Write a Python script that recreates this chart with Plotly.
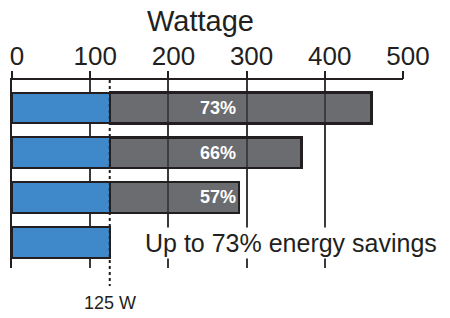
import plotly.graph_objects as go

# ---- data ----
categories = ["Fixture 1", "Fixture 2", "Fixture 3", "LED"]
led_watts = [125, 125, 125, 125]
legacy_watts = [460, 370, 290, None]
savings_labels = ["73%", "66%", "57%", ""]
tick_values = [0, 100, 200, 300, 400, 500]
tick_labels = ["0", "100", "200", "300", "400", "500"]
reference_watts = 125
reference_label = "125 W"
axis_title = "Wattage"
callout = "Up to 73% energy savings"

extra_watts = [(lw - b) if lw is not None else 0 for lw, b in zip(legacy_watts, led_watts)]

DARK = "#231f20"
BLUE = "#3f88c9"
GRAY = "rgba(60,62,66,0.76)"
FONT = "Liberation Sans, Arial, sans-serif"

fig = go.Figure()
fig.add_trace(go.Bar(
    y=categories, x=led_watts, orientation="h", width=0.69,
    marker=dict(color=BLUE, line=dict(color=DARK, width=2)),
    hoverinfo="skip", showlegend=False,
))
fig.add_trace(go.Bar(
    y=categories, x=extra_watts, orientation="h", width=0.69,
    marker=dict(color=GRAY, line=dict(color=DARK, width=2.5)),
    hoverinfo="skip", showlegend=False,
))
# invisible helper so the tick-stub axis (x2) is drawn
fig.add_trace(go.Scatter(
    x=led_watts, y=categories, xaxis="x2", mode="markers",
    marker=dict(opacity=0), hoverinfo="skip", showlegend=False,
))

# percent labels
label_x = 263
for cat, lab in zip(categories, savings_labels):
    if lab:
        fig.add_annotation(x=label_x, y=cat, xref="x", yref="y", text=f"<b>{lab}</b>",
                           showarrow=False, xanchor="center",
                           font=dict(family=FONT, size=18, color="white"))

# reference dotted line
fig.add_shape(type="line", xref="x", yref="paper", x0=reference_watts, x1=reference_watts,
              y0=1, y1=-0.096, line=dict(color=DARK, width=2, dash="dot"), layer="above")
fig.add_annotation(x=reference_watts, y=-0.186, xref="x", yref="paper", text=reference_label,
                   showarrow=False, xanchor="center", yanchor="middle",
                   font=dict(family=FONT, size=18, color=DARK))

fig.add_annotation(x=0.483, y=1.225, xref="paper", yref="paper", text=axis_title,
                   showarrow=False, yanchor="bottom", xanchor="center", borderpad=0,
                   font=dict(family=FONT, size=29, color=DARK))
fig.add_annotation(x=0.714, y=0.133, xref="paper", yref="paper", text=callout,
                   showarrow=False, bgcolor="white", borderpad=1,
                   xanchor="center", yanchor="middle",
                   font=dict(family=FONT, size=25, color=DARK))

fig.update_layout(
    width=442, height=310,
    margin=dict(l=4, r=47, t=72, b=50, autoexpand=False),
    barmode="stack", bargap=0.3,
    plot_bgcolor="white", paper_bgcolor="white",
    font=dict(family=FONT, color=DARK),
    xaxis=dict(side="top", range=[0, 500], tickvals=tick_values, ticktext=tick_labels,
               automargin=False, ticklabeloverflow="allow", ticklabelshift=5,
               ticklabelstandoff=3,
               showline=True, linecolor=DARK, linewidth=2, ticks="",
               tickfont=dict(family=FONT, size=26, color=DARK),
               showgrid=True, gridcolor="#3a3a3a", gridwidth=1.5, zeroline=False),
    xaxis2=dict(overlaying="x", side="top", matches="x", range=[0, 500],
                tickvals=tick_values, showticklabels=False, automargin=False,
                ticks="outside", ticklen=8, tickwidth=1.5, tickcolor=DARK,
                showline=False, showgrid=False, zeroline=False),
    yaxis=dict(range=[3.58, -0.627], showticklabels=False, ticks="", automargin=False,
               showline=True, linecolor=DARK, linewidth=2, showgrid=False, zeroline=False),
)

fig.write_html("out.html")
